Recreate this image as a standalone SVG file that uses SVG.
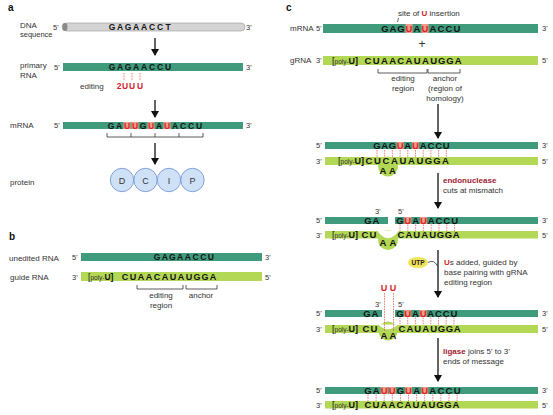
<svg xmlns="http://www.w3.org/2000/svg" width="553" height="415" viewBox="0 0 553 415">
<defs>
<style>
text{font-family:"Liberation Sans",Arial,sans-serif}
.lbl{font-size:8px;fill:#333}
.pl{font-size:10px;font-weight:bold;fill:#111}
.end{font-size:7.5px;fill:#333}
.seq{font-size:9.5px;font-weight:bold;fill:#141414;text-anchor:middle}
.sa{font-size:8.5px;font-weight:bold;fill:#141414;text-anchor:middle}
.hu{fill:#d8262a}
.hl{fill:#ef9b86}
.b1{fill:#3f9b7b}
.b2{fill:#b2d855}
.dash{stroke:#e8605a;stroke-width:0.8;stroke-dasharray:1.6 1;fill:none}
.arr{stroke:#111;stroke-width:1.3;fill:none;marker-end:url(#ah)}
.brk{stroke:#333;stroke-width:0.8;fill:none}
.red{fill:#d0242a;font-weight:bold}
.dred{fill:#9e1b32;font-weight:bold}
.cir{fill:#cfe1f7;stroke:#6b8fcf;stroke-width:0.8}
.pu{font-size:6.5px;font-weight:normal;fill:#333}
.ctr{text-anchor:middle}
.aa{font-size:9px;fill:#333;text-anchor:middle}
</style>
<marker id="ah" markerWidth="7" markerHeight="8" refX="6" refY="4" orient="auto" markerUnits="userSpaceOnUse">
<path d="M0,0 L7,4 L0,8 Z" fill="#111"/>
</marker>
</defs>
<rect width="553" height="415" fill="#fff"/>

<!-- ============ PANEL A ============ -->
<g id="panel-a">
<text class="pl" x="8" y="11">a</text>
<g id="a-dna">
<text class="lbl" x="20" y="28">DNA</text>
<text class="lbl" x="20" y="37" style="font-size:7.5px">sequence</text>
<text class="end" x="53" y="30">5'</text>
<rect x="62" y="23" width="183" height="8" rx="4" fill="#d4d4d4" stroke="#999" stroke-width="0.6"/>
<ellipse cx="65" cy="27" rx="2.5" ry="4" fill="#8a8a8a"/>
<text class="sa" y="30.2" x="112 120 128 136 144 152 160 168">GAGAACCT</text>
<text class="end" x="246" y="30">3'</text>
</g>
<g id="a-primary">
<text class="lbl" x="20" y="68">primary</text>
<text class="lbl" x="20" y="78">RNA</text>
<text class="end" x="54" y="70">5'</text>
<rect class="b1" x="63" y="63" width="180" height="8"/>
<text class="sa" y="70.2" x="112 120 128 136 144 152 160 168">GAGAACCU</text>
<text class="end" x="246" y="70">3'</text>
<text class="lbl" x="80" y="89">editing</text>
<text class="red" font-size="8.5" text-anchor="middle" y="89" x="119 125 132 140">2UUU</text>
</g>
<g id="a-mrna">
<text class="lbl" x="10" y="128">mRNA</text>
<text class="end" x="54" y="128">5'</text>
<rect class="b1" x="63" y="122" width="180" height="7"/>
<rect class="hl" x="123.5" y="122" width="7" height="7"/>
<rect class="hl" x="131.5" y="122" width="7" height="7"/>
<rect class="hl" x="147.5" y="122" width="7" height="7"/>
<rect class="hl" x="163.5" y="122" width="7" height="7"/>
<text class="sa" y="128.7"><tspan x="111 119">GA</tspan><tspan class="hu" x="127 135">UU</tspan><tspan x="143">G</tspan><tspan class="hu" x="151">U</tspan><tspan x="159">A</tspan><tspan class="hu" x="167">U</tspan><tspan x="175 183 191 199">ACCU</tspan></text>
<text class="end" x="246" y="128">3'</text>
<path class="brk" d="M107,133 V137 H203 V133 M131,133 V137 M155,133 V137 M179,133 V137"/>
</g>
<g id="a-protein">
<text class="lbl" x="10" y="185">protein</text>
<circle class="cir" cx="122" cy="180" r="11.7"/>
<circle class="cir" cx="145.5" cy="180" r="11.7"/>
<circle class="cir" cx="169" cy="180" r="11.7"/>
<circle class="cir" cx="192.5" cy="180" r="11.7"/>
<text class="aa" y="183.5" x="122">D</text>
<text class="aa" y="183.5" x="145.5">C</text>
<text class="aa" y="183.5" x="169">I</text>
<text class="aa" y="183.5" x="192.5">P</text>
</g>
</g>

<!-- ============ PANEL B ============ -->
<g id="panel-b">
<text class="pl" x="9" y="240">b</text>
<g id="b-unedited">
<text class="lbl" x="9" y="261">unedited RNA</text>
<text class="end" x="72" y="260">5'</text>
<rect class="b1" x="81" y="253" width="181" height="8"/>
<text class="sa" y="260" x="157 164.7 172.4 180.1 187.8 195.5 203.2 210.9">GAGAACCU</text>
<text class="end" x="265" y="260">3'</text>
</g>
<g id="b-guide">
<text class="lbl" x="10" y="280">guide RNA</text>
<text class="end" x="72" y="280">3'</text>
<rect class="b2" x="81" y="272" width="181" height="9"/>
<text x="88" y="280" font-size="8.5" font-weight="bold" fill="#141414"><tspan font-weight="normal">[</tspan><tspan class="pu">poly-</tspan>U]</text>
<text class="seq" style="font-size:9px" y="280.2" x="125 133 141 149 157 165 173 181 189 197 205 213">CUAACAUAUGGA</text>
<text class="end" x="265" y="280">5'</text>
<path class="brk" d="M137,285 V289 H183 V285 M186,285 V289 H217 V285"/>
<text class="lbl ctr" x="161" y="298">editing</text>
<text class="lbl ctr" x="161" y="308">region</text>
<text class="lbl ctr" x="201" y="298">anchor</text>
</g>
</g>

<!-- ============ PANEL C ============ -->
<g id="panel-c">
<text class="pl" x="286" y="11">c</text>
<g id="c-mrna">
<text class="lbl" x="398" y="16">site of <tspan class="red">U</tspan> insertion</text>
<path d="M398.5,18 L397.5,22" stroke="#333" stroke-width="0.7"/>
<text class="lbl" x="290" y="31">mRNA</text>
<text class="end" x="316" y="31">5'</text>
<rect class="b1" x="323" y="24" width="215" height="9"/>
<rect class="hl" x="405.5" y="24" width="7" height="9"/>
<rect class="hl" x="421.5" y="24" width="7" height="9"/>
<text class="seq" y="32"><tspan x="385 393 401">GAG</tspan><tspan class="hu" x="409">U</tspan><tspan x="417">A</tspan><tspan class="hu" x="425">U</tspan><tspan x="433 441 449 457">ACCU</tspan></text>
<text class="end" x="542" y="31">3'</text>
<text class="lbl ctr" style="font-size:12px" x="422" y="48">+</text>
</g>
<g id="c-grna">
<text class="lbl" x="290" y="63">gRNA</text>
<text class="end" x="316" y="63">3'</text>
<rect class="b2" x="323" y="56" width="215" height="9"/>
<text x="332" y="64" font-size="9" font-weight="bold" fill="#141414"><tspan font-weight="normal">[</tspan><tspan class="pu">poly-</tspan>U]</text>
<text class="seq" y="64.2" x="368 376.2 384.4 392.6 400.8 409 417.2 425.4 433.6 441.8 450 458.2">CUAACAUAUGGA</text>
<text class="end" x="542" y="63">5'</text>
<path class="brk" d="M378,69 V73 H427 V69 M428,69 V73 H460 V69"/>
<text class="lbl ctr" x="403" y="81">editing</text>
<text class="lbl ctr" x="403" y="91">region</text>
<text class="lbl ctr" x="445" y="81">anchor</text>
<text class="lbl ctr" x="445" y="91">(region of</text>
<text class="lbl ctr" x="445" y="101">homology)</text>
</g>

<g id="c-step2">
<text class="end" x="316" y="148">5'</text>
<rect class="b1" x="325" y="142" width="213" height="7"/>
<rect class="hl" x="396.6" y="142" width="7" height="7"/>
<rect class="hl" x="412" y="142" width="7" height="7"/>
<text class="seq" y="148.8"><tspan x="377 384.7 392.4">GAG</tspan><tspan class="hu" x="400.1">U</tspan><tspan x="407.8">A</tspan><tspan class="hu" x="415.5">U</tspan><tspan x="423.2 430.9 438.6 446.3">ACCU</tspan></text>
<text class="end" x="542" y="148">3'</text>
<circle class="b2" cx="388" cy="166.5" r="10"/>
<rect class="b2" x="325" y="157" width="213" height="8"/>
<text class="end" x="316" y="164">3'</text>
<text x="338" y="164" font-size="9" font-weight="bold" fill="#141414"><tspan font-weight="normal">[</tspan><tspan class="pu">poly-</tspan>U]</text>
<text class="seq" y="164.3" x="369 377.5 386 394.5 403 411.5 420 428.5 437 445.5">CUCAUAUGGA</text>
<text class="seq" y="174" x="383 392.5">AA</text>
<text class="end" x="542" y="164">5'</text>
</g>

<g id="c-step3">
<text class="end" x="375" y="214">3'</text>
<text class="end" x="398" y="214">5'</text>
<text class="end" x="316" y="223">5'</text>
<rect class="b1" x="325" y="217" width="63" height="7"/>
<rect class="b1" x="395" y="217" width="143" height="7"/>
<rect class="hl" x="404.3" y="217" width="7" height="7"/>
<rect class="hl" x="419.9" y="217" width="7" height="7"/>
<text class="seq" y="223.6"><tspan x="368 376">GA</tspan><tspan x="400">G</tspan><tspan class="hu" x="407.8">U</tspan><tspan x="415.6">A</tspan><tspan class="hu" x="423.4">U</tspan><tspan x="431.2 439 446.8 454.6">ACCU</tspan></text>
<text class="end" x="542" y="223">3'</text>
<circle class="b2" cx="388" cy="240" r="10"/>
<rect class="b2" x="325" y="231" width="213" height="7.5"/>
<path d="M377,230.5 Q388,246 399,230.5 Z" fill="#fff"/>
<text class="end" x="316" y="238">3'</text>
<text x="332" y="238" font-size="9" font-weight="bold" fill="#141414"><tspan font-weight="normal">[</tspan><tspan class="pu">poly-</tspan>U]</text>
<text class="seq" y="238.3" x="365 373">CU</text>
<text class="seq" y="246" x="383 393">AA</text>
<text class="seq" y="238.3" x="401 408.9 416.8 424.7 432.6 440.5 448.4 456.3">CAUAUGGA</text>
<text class="end" x="542" y="238">5'</text>
</g>

<g id="c-utp">
<ellipse cx="418" cy="262.5" rx="10" ry="5.5" fill="#f2e35c"/>
<text class="ctr" x="418" y="265" font-size="6.5" font-weight="bold" fill="#222">UTP</text>
<path d="M428,262.5 Q434,259 437.5,266" stroke="#333" stroke-width="0.8" fill="none"/>
</g>

<g id="c-step4">
<text class="red ctr" font-size="9" x="384" y="291">U</text>
<text class="red ctr" font-size="9" x="393" y="291">U</text>
<text class="end" x="375" y="307">3'</text>
<text class="end" x="398" y="307">5'</text>
<text class="end" x="316" y="316">5'</text>
<rect class="b1" x="325" y="310" width="57" height="7"/>
<rect class="b1" x="395" y="310" width="143" height="7"/>
<rect class="hl" x="404.2" y="310" width="7" height="7"/>
<rect class="hl" x="419.6" y="310" width="7" height="7"/>
<text class="seq" y="316.6"><tspan x="367 375">GA</tspan><tspan x="400">G</tspan><tspan class="hu" x="407.7">U</tspan><tspan x="415.4">A</tspan><tspan class="hu" x="423.1">U</tspan><tspan x="430.8 438.5 446.2 453.9">ACCU</tspan></text>
<text class="end" x="542" y="316">3'</text>
<circle class="b2" cx="388" cy="331" r="9.5"/>
<rect class="b2" x="325" y="325" width="213" height="8"/>
<path d="M378,324.5 Q388,334 398,324.5 Z" fill="#fff"/>
<text class="end" x="316" y="332">3'</text>
<text x="332" y="332" font-size="9" font-weight="bold" fill="#141414"><tspan font-weight="normal">[</tspan><tspan class="pu">poly-</tspan>U]</text>
<text class="seq" y="332.3" x="366 374">CU</text>
<text class="seq" y="339" x="384 393">AA</text>
<text class="seq" y="332.3" x="402 409.9 417.8 425.7 433.6 441.5 449.4 457.3">CAUAUGGA</text>
<text class="end" x="542" y="332">5'</text>
</g>

<g id="c-final">
<text class="end" x="316" y="393">5'</text>
<rect class="b1" x="325" y="387" width="213" height="7"/>
<rect class="hl" x="380.7" y="387" width="7" height="7"/>
<rect class="hl" x="388.8" y="387" width="7" height="7"/>
<rect class="hl" x="405" y="387" width="7" height="7"/>
<rect class="hl" x="421.2" y="387" width="7" height="7"/>
<text class="seq" y="393.6"><tspan x="368 376.1">GA</tspan><tspan class="hu" x="384.2 392.3">UU</tspan><tspan x="400.4">G</tspan><tspan class="hu" x="408.5">U</tspan><tspan x="416.6">A</tspan><tspan class="hu" x="424.7">U</tspan><tspan x="432.8 440.9 449 457.1">ACCU</tspan></text>
<text class="end" x="542" y="393">3'</text>
<rect class="b2" x="325" y="401" width="213" height="7.5"/>
<text class="end" x="316" y="408">3'</text>
<text x="332" y="408" font-size="9" font-weight="bold" fill="#141414"><tspan font-weight="normal">[</tspan><tspan class="pu">poly-</tspan>U]</text>
<text class="seq" y="408.3" x="368 376 384 392 400 408 416 424 432 440 448 456">CUAACAUAUGGA</text>
<text class="end" x="542" y="408">5'</text>
</g>

<g id="c-notes">
<text class="lbl" x="443" y="183"><tspan class="dred">endonuclease</tspan></text>
<text class="lbl" x="443" y="193">cuts at mismatch</text>
<text class="lbl" x="444" y="265"><tspan class="red">U</tspan>s added, guided by</text>
<text class="lbl" x="444" y="275">base pairing with gRNA</text>
<text class="lbl" x="444" y="285">editing region</text>
<text class="lbl" x="443" y="354"><tspan class="dred">ligase</tspan> joins 5' to 3'</text>
<text class="lbl" x="443" y="364">ends of message</text>
</g>
</g>

<!-- ============ CONNECTORS ============ -->
<g id="connectors">
<path class="dash" d="M124,73 V80 M132,73 V80 M140,73 V80"/>
<path class="dash" d="M377,150 V157 M384.7,150 V157 M392.4,150 V157 M400.1,150 V157 M407.8,150 V157 M415.5,150 V157 M423.2,150 V157 M430.9,150 V157 M438.6,150 V157 M446.3,150 V157"/>
<path class="dash" d="M400,224.5 V231 M407.8,224.5 V231 M415.6,224.5 V231 M423.4,224.5 V231 M431.2,224.5 V231 M439,224.5 V231 M446.8,224.5 V231 M454.6,224.5 V231"/>
<path class="dash" d="M384.5,293 V332 M393.5,293 V332"/>
<path class="dash" d="M400,317.5 V325 M407.7,317.5 V325 M415.4,317.5 V325 M423.1,317.5 V325 M430.8,317.5 V325 M438.5,317.5 V325 M446.2,317.5 V325 M453.9,317.5 V325"/>
<path class="dash" d="M368,394.5 V401 M376.1,394.5 V401 M384.2,394.5 V401 M392.3,394.5 V401 M400.4,394.5 V401 M408.5,394.5 V401 M416.6,394.5 V401 M424.7,394.5 V401 M432.8,394.5 V401 M440.9,394.5 V401 M449,394.5 V401 M457.1,394.5 V401"/>
<path class="arr" d="M155,38 V55"/>
<path class="arr" d="M155,100 V117"/>
<path class="arr" d="M155,143 V164"/>
<path class="arr" d="M438,104 V138"/>
<path class="arr" d="M438,173 V208"/>
<path class="arr" d="M438,250 V297"/>
<path class="arr" d="M438,338 V381"/>
</g>
</svg>
